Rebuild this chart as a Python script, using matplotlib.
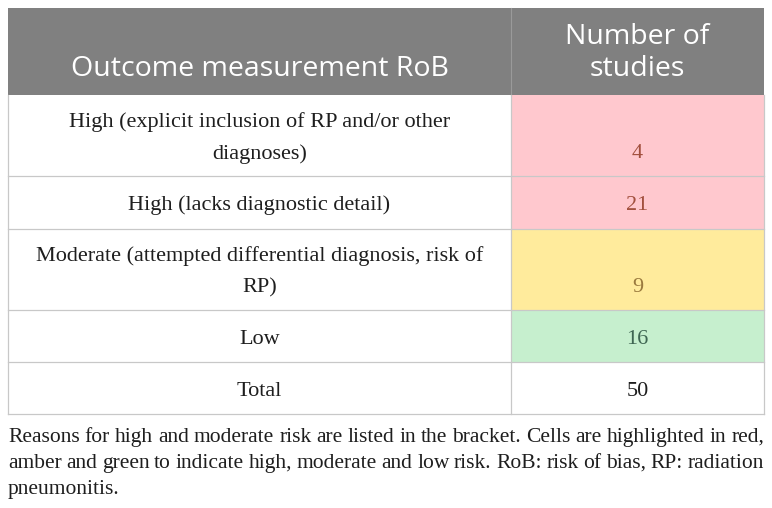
import matplotlib
matplotlib.use('Agg')
import matplotlib.pyplot as plt
from matplotlib.patches import Rectangle

# table content
header = ['Outcome measurement RoB', 'Number of\nstudies']
rob_labels = ['High (explicit inclusion of RP and/or other\ndiagnoses)',
              'High (lacks diagnostic detail)',
              'Moderate (attempted differential diagnosis, risk of\nRP)',
              'Low',
              'Total']
n_studies = [4, 21, 9, 16, 50]
risk = ['high', 'high', 'moderate', 'low', None]
caption = ['Reasons for high and moderate risk are listed in the bracket. Cells are highlighted in red,',
           'amber and green to indicate high, moderate and low risk. RoB: risk of bias, RP: radiation',
           'pneumonitis.']

fill = {'high': '#ffc8ce', 'moderate': '#ffeb9c', 'low': '#c6efce', None: 'white'}
ink = {'high': '#a2503e', 'moderate': '#9a7a3e', 'low': '#3e6552', None: '#1e1e1e'}

serif = 'Liberation Serif'
body_size = 16
cap_size = 15.5
head_size = 20.5

# layout in pixels
x0, xmid, x1 = 8, 511, 764
row_edges = [8, 95, 176, 229, 310, 362, 414]
line_gap = 31
grid = '#c8c8c8'

fig = plt.figure(figsize=(7.72, 5.08), dpi=100)
ax = fig.add_axes([0, 0, 1, 1])
ax.set_xlim(0, 772)
ax.set_ylim(508, 0)
ax.axis('off')

# header
ax.add_patch(Rectangle((x0, row_edges[0]), x1 - x0, row_edges[1] - row_edges[0],
                       facecolor='#808080', edgecolor='none'))
ax.plot([xmid, xmid], [row_edges[0], row_edges[1]], color='#9a9a9a', lw=0.8)
ax.text((x0 + xmid) / 2, 76, header[0], ha='center', va='baseline',
        family='Open Sans', fontsize=head_size, color='white')
for i, line in enumerate(header[1].split('\n')):
    ax.text((xmid + x1) / 2, 44 + i * 32, line, ha='center', va='baseline',
            family='Open Sans', fontsize=head_size, color='white')

# body rows
for r, (lab, n, rk) in enumerate(zip(rob_labels, n_studies, risk)):
    top, bot = row_edges[r + 1], row_edges[r + 2]
    ax.add_patch(Rectangle((xmid, top), x1 - xmid, bot - top,
                           facecolor=fill[rk], edgecolor='none'))
    lines = lab.split('\n')
    yb = (top + bot) / 2 + 7.5
    y_first = yb - (len(lines) - 1) * line_gap / 2
    for i, line in enumerate(lines):
        ax.text((x0 + xmid) / 2, y_first + i * line_gap, line, ha='center',
                va='baseline', family=serif, fontsize=body_size, color='#1e1e1e')
    ax.text((xmid + x1) / 2, y_first + (len(lines) - 1) * line_gap, str(n), ha='center',
            va='baseline', family=serif, fontsize=body_size, color=ink[rk])
    ax.plot([x0, x1], [bot, bot], color=grid, lw=0.9)

ax.plot([x0, x0], [row_edges[1], row_edges[-1]], color=grid, lw=0.9)
ax.plot([x1, x1], [row_edges[1], row_edges[-1]], color=grid, lw=0.9)
ax.plot([xmid, xmid], [row_edges[1], row_edges[-1]], color=grid, lw=0.9)

# caption, first two lines justified
renderer = fig.canvas.get_renderer()
cap_y = [442, 468, 494]
for k, line in enumerate(caption):
    words = line.split(' ')
    if k == len(caption) - 1:
        ax.text(x0, cap_y[k], line, ha='left', va='baseline', family=serif,
                fontsize=cap_size, color='#1e1e1e')
        continue
    texts = [ax.text(0, cap_y[k], w, ha='left', va='baseline', family=serif,
                     fontsize=cap_size, color='#1e1e1e') for w in words]
    widths = [t.get_window_extent(renderer).width for t in texts]
    gap = (x1 - x0 - sum(widths)) / (len(words) - 1)
    x = x0
    for t, w in zip(texts, widths):
        t.set_x(x)
        x += w + gap

fig.savefig('out.png', dpi=100)
